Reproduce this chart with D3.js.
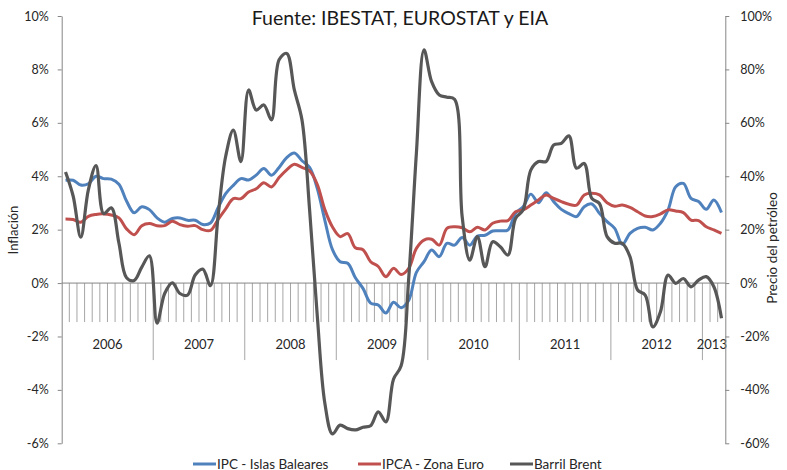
<!DOCTYPE html>
<html>
<head>
<meta charset="utf-8">
<script src="https://cdn.jsdelivr.net/npm/d3@7"></script>
<style>
  body { margin: 0; background: #fff; }
  text { font-family: Lato, "Open Sans", sans-serif; fill: #262626; }
</style>
</head>
<body>
<div id="chart"></div>
<script>
// Data (monthly, Jan 2006 - Mar 2013)
const years = ["2006", "2007", "2008", "2009", "2010", "2011", "2012", "2013"]
const monthsPerYear = [12, 12, 12, 12, 12, 12, 12, 3]

const ipcBaleares = [
  3.85, 3.85, 3.67, 3.72, 4.00, 3.91, 3.89, 3.70, 3.07, 2.63, 2.86, 2.75,
  2.44, 2.28, 2.42, 2.44, 2.35, 2.35, 2.19, 2.25, 2.82, 3.35, 3.66, 3.91,
  3.86, 4.04, 4.29, 4.04, 4.33, 4.70, 4.87, 4.58, 4.33, 3.55, 2.35, 1.25,
  0.80, 0.74, 0.20, -0.20, -0.75, -0.82, -1.12, -0.72, -0.92, -0.64, 0.40, 0.80,
  1.24, 0.99, 1.49, 1.42, 1.71, 1.42, 1.76, 1.79, 1.95, 1.96, 1.99, 2.61,
  2.86, 3.33, 3.01, 3.38, 3.05, 2.76, 2.60, 2.49, 2.86, 2.96, 2.61, 2.30,
  2.05, 1.45, 1.86, 2.05, 2.09, 1.99, 2.24, 2.74, 3.61, 3.73, 3.17, 3.05,
  2.76, 3.11, 2.64
]
const ipcaEuro = [
  2.40, 2.38, 2.28, 2.50, 2.57, 2.59, 2.55, 2.44, 2.03, 1.81, 2.15, 2.23,
  2.15, 2.15, 2.31, 2.19, 2.13, 2.15, 2.00, 1.97, 2.38, 2.78, 3.16, 3.16,
  3.41, 3.53, 3.76, 3.60, 3.95, 4.24, 4.45, 4.33, 4.20, 3.70, 2.75, 2.10,
  1.74, 1.85, 1.32, 1.25, 0.80, 0.62, 0.24, 0.55, 0.32, 0.55, 1.30, 1.61,
  1.64, 1.42, 2.05, 2.11, 2.07, 1.92, 2.09, 1.99, 2.24, 2.32, 2.34, 2.67,
  2.74, 2.92, 3.11, 3.30, 3.17, 3.05, 2.95, 2.92, 3.30, 3.36, 3.30, 3.01,
  2.88, 2.92, 2.83, 2.67, 2.51, 2.49, 2.59, 2.74, 2.70, 2.64, 2.36, 2.34,
  2.11, 1.99, 1.86
]
const barrilBrent = [
  41.6, 32.6, 17.2, 35.0, 44.0, 26.0, 28.2, 15.0, 2.0, 1.0, 6.0, 10.2,
  -15.0, -3.9, 0.1, -3.9, -4.5, 3.0, 5.2, -1.0, 25.0, 47.5, 57.3, 45.5,
  72.3, 64.8, 66.7, 61.1, 83.6, 86.0, 72.3, 61.1, 27.4, -12.0, -45.0, -56.5,
  -53.2, -54.5, -55.0, -54.0, -53.4, -48.2, -52.0, -36.0, -31.0, 2.0, 48.6, 87.3,
  75.4, 70.4, 69.6, 68.8, 24.9, 8.6, 17.4, 6.1, 15.5, 13.6, 10.5, 24.2,
  27.4, 42.3, 45.5, 45.5, 51.7, 52.3, 55.1, 43.0, 44.8, 31.7, 29.8, 17.4,
  14.9, 14.9, 9.9, -2.6, -4.5, -16.4, -10.7, 3.0, -0.1, 1.7, -1.4, 1.1,
  2.4, -1.4, -13.2
]

const leftTicks = [-6, -4, -2, 0, 2, 4, 6, 8, 10]
const rightTicks = [-60, -40, -20, 0, 20, 40, 60, 80, 100]

const seriesNames = ["IPC - Islas Baleares", "IPCA - Zona Euro", "Barril Brent"]
const seriesColors = ["#4f81bd", "#c0504d", "#575757"]

function drawChart(container) {
    const WIDTH = 787
    const HEIGHT = 470
    const PLOT = {LEFT: 61.7, RIGHT: 725.3, TOP: 16, BOTTOM: 443.3}
    const AXIS_COLOR = "#868686"

    // one category per month, grouped by year
    const categories = []
    years.forEach((y, yi) => {
        for (let m = 0; m < monthsPerYear[yi]; m++) categories.push(y + "-" + (m + 1))
    })

    let svg = d3.select(container).append("svg")
        .attr("width", WIDTH)
        .attr("height", HEIGHT)

    let xScale = d3.scaleBand()
        .domain(categories)
        .range([PLOT.LEFT, PLOT.RIGHT])
        .padding(0)
    const bw = xScale.bandwidth()

    let yLeft = d3.scaleLinear().domain([-6, 10]).range([PLOT.BOTTOM, PLOT.TOP])
    let yRight = d3.scaleLinear().domain([-60, 100]).range([PLOT.BOTTOM, PLOT.TOP])
    const y0 = yLeft(0)

    // month tick marks hanging under the zero line
    svg.append("g")
        .selectAll("line")
        .data(categories.slice(1))
        .enter()
        .append("line")
            .attr("x1", d => xScale(d))
            .attr("x2", d => xScale(d))
            .attr("y1", y0)
            .attr("y2", d => d.endsWith("-1") ? y0 + 77 : y0 + 39)
            .style("stroke", "#a6a6a6")
            .style("stroke-width", 1)

    // zero line (category axis)
    svg.append("line")
        .attr("x1", PLOT.LEFT).attr("x2", PLOT.RIGHT)
        .attr("y1", y0).attr("y2", y0)
        .style("stroke", AXIS_COLOR)

    // year labels
    let start = 0
    years.forEach((y, yi) => {
        const first = categories[start]
        const last = categories[start + monthsPerYear[yi] - 1]
        const cx = (xScale(first) + xScale(last) + bw) / 2
        svg.append("text")
            .attr("x", yi === years.length - 1 ? cx - 2 : cx)
            .attr("y", y0 + 66)
            .attr("text-anchor", "middle")
            .style("font-size", "13px")
            .text(y)
        start += monthsPerYear[yi]
    })

    // left axis
    let gLeft = svg.append("g")
        .attr("transform", "translate(" + PLOT.LEFT + ",0)")
        .call(d3.axisLeft(yLeft).tickValues(leftTicks).tickSize(4).tickSizeOuter(0).tickPadding(9)
            .tickFormat(d => d + "%"))
    // right axis
    let gRight = svg.append("g")
        .attr("transform", "translate(" + PLOT.RIGHT + ",0)")
        .call(d3.axisRight(yRight).tickValues(rightTicks).tickSize(4).tickSizeOuter(0).tickPadding(11)
            .tickFormat(d => d + "%"))
    ;[gLeft, gRight].forEach(g => {
        g.select(".domain").style("stroke", AXIS_COLOR)
        g.selectAll(".tick line").style("stroke", AXIS_COLOR)
        g.selectAll(".tick text")
            .style("font-family", "Lato, 'Open Sans', sans-serif")
            .style("font-size", "12.5px")
            .style("fill", "#262626")
    })

    // lines
    const xc = (d, i) => xScale(categories[i]) + bw / 2
    const lineLeft = d3.line().x(xc).y(d => yLeft(d)).curve(d3.curveCatmullRom.alpha(0.5))
    const lineRight = d3.line().x(xc).y(d => yRight(d)).curve(d3.curveCatmullRom.alpha(0.5))

    svg.append("path").datum(ipcBaleares)
        .attr("d", lineLeft)
        .style("fill", "none").style("stroke", seriesColors[0]).style("stroke-width", 3)
        .style("stroke-linejoin", "round")
    svg.append("path").datum(ipcaEuro)
        .attr("d", lineLeft)
        .style("fill", "none").style("stroke", seriesColors[1]).style("stroke-width", 3)
        .style("stroke-linejoin", "round")
    svg.append("path").datum(barrilBrent)
        .attr("d", lineRight)
        .style("fill", "none").style("stroke", seriesColors[2]).style("stroke-width", 3.2)
        .style("stroke-linejoin", "round")

    // title
    svg.append("text")
        .attr("x", 400)
        .attr("y", 25)
        .attr("text-anchor", "middle")
        .style("font-size", "19.5px")
        .style("fill", "#1a1a1a")
        .text("Fuente: IBESTAT, EUROSTAT y EIA")

    // axis titles
    svg.append("text")
        .attr("transform", "translate(18,230) rotate(-90)")
        .attr("text-anchor", "middle")
        .style("font-size", "13px")
        .text("Inflación")
    svg.append("text")
        .attr("transform", "translate(777,248) rotate(-90)")
        .attr("text-anchor", "middle")
        .style("font-size", "13.5px")
        .text("Precio del petróleo")

    // legend
    const legendX = [193, 358, 510]
    const legend = svg.append("g")
        .selectAll("g")
        .data(seriesNames)
        .enter()
        .append("g")
            .attr("transform", (d, i) => "translate(" + legendX[i] + ",464)")
    legend.append("line")
        .attr("x1", 0).attr("x2", 23)
        .style("stroke", (d, i) => seriesColors[i])
        .style("stroke-width", 3)
    legend.append("text")
        .attr("x", 24)
        .attr("y", 4.5)
        .style("font-size", "13.5px")
        .text(d => d)
}

drawChart("#chart")
</script>
</body>
</html>
